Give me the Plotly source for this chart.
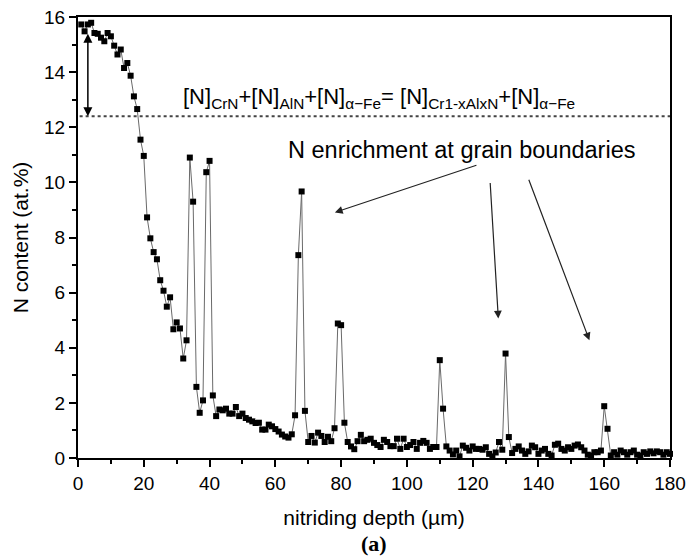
import plotly.graph_objects as go

# Depth grid (µm) - measurement step of 1 µm starting at 1 µm
depth = [float(d) for d in range(1, 181)]

n_content = [
    15.73, 15.48, 15.73, 15.79, 15.42, 15.39, 15.25, 15.12, 15.42, 15.30,
    14.96, 14.64, 14.82, 14.15, 14.33, 13.87, 13.12, 12.66, 11.55, 10.96,
    8.73, 7.97, 7.47, 7.21, 6.45, 6.07, 5.49, 5.83, 4.67, 4.92,
    4.70, 3.61, 4.27, 10.90, 9.30, 2.58, 1.64, 2.09, 10.37, 10.78,
    2.27, 1.52, 1.76, 1.73, 1.79, 1.61, 1.61, 1.85, 1.52, 1.61,
    1.45, 1.39, 1.33, 1.27, 1.28, 1.03, 1.03, 1.21, 1.15, 1.05,
    0.96, 0.85, 0.78, 0.74, 0.86, 1.55, 7.36, 9.67, 1.71, 0.58,
    0.80, 0.56, 0.92, 0.80, 0.58, 0.77, 0.61, 1.08, 4.88, 4.82,
    1.28, 0.58, 0.42, 0.32, 0.61, 0.84, 0.61, 0.66, 0.70, 0.55,
    0.47, 0.40, 0.66, 0.58, 0.43, 0.43, 0.70, 0.33, 0.70, 0.40,
    0.47, 0.58, 0.33, 0.55, 0.62, 0.55, 0.33, 0.40, 0.40, 3.55,
    1.79, 0.42, 0.27, 0.13, 0.27, 0.06, 0.45, 0.37, 0.27, 0.42,
    0.33, 0.33, 0.30, 0.39, 0.15, 0.06, 0.20, 0.58, 0.30, 3.79,
    0.76, 0.18, 0.33, 0.42, 0.27, 0.15, 0.24, 0.45, 0.39, 0.15,
    0.27, 0.33, 0.15, 0.09, 0.48, 0.52, 0.33, 0.27, 0.39, 0.33,
    0.45, 0.49, 0.39, 0.27, 0.12, 0.09, 0.21, 0.21, 0.27, 1.88,
    1.06, 0.09, 0.21, 0.12, 0.27, 0.21, 0.12, 0.21, 0.27, 0.12,
    0.09, 0.21, 0.15, 0.24, 0.17, 0.24, 0.21, 0.12, 0.21, 0.15,
]

x_ticks = [0, 20, 40, 60, 80, 100, 120, 140, 160, 180]
y_ticks = [0, 2, 4, 6, 8, 10, 12, 14, 16]

threshold = 12.4          # dotted reference level
gap_top = 15.45           # top of double arrow
gap_x = 3.0

equation = ("[N]<sub>CrN</sub>+[N]<sub>AlN</sub>+[N]<sub>α−Fe</sub>= "
            "[N]<sub>Cr1-xAlxN</sub>+[N]<sub>α−Fe</sub>")
enrich_text = "N enrichment at grain boundaries"
# arrows: (tail_x, tail_y, head_x, head_y)
enrich_arrows = [
    (121.6, 10.64, 78.1, 8.91),
    (125.3, 10.03, 127.8, 5.06),
    (136.9, 10.15, 155.5, 4.27),
]

FONT = "Liberation Sans, Arial, sans-serif"

fig = go.Figure()
fig.add_trace(go.Scatter(
    x=depth, y=n_content, mode="lines+markers",
    line=dict(color="#6a6a6a", width=1),
    marker=dict(symbol="square", size=6, color="black"),
    cliponaxis=False, showlegend=False,
))

fig.add_shape(type="line", xref="x", yref="y", x0=0.5, x1=180, y0=threshold, y1=threshold,
              line=dict(color="#444444", width=2, dash="dot"))

annotations = [
    dict(x=gap_x, y=threshold, ax=gap_x, ay=gap_top, xref="x", yref="y",
         axref="x", ayref="y", text="", showarrow=True, arrowhead=2,
         startarrowhead=2, arrowside="end+start", arrowsize=1.2, startarrowsize=1.2,
         arrowwidth=1.5, arrowcolor="black"),
    dict(x=91.5, y=13.05, xref="x", yref="y", text=equation, showarrow=False,
         font=dict(family=FONT, size=22, color="black"), xanchor="center", yanchor="middle"),
    dict(x=116.6, y=11.18, xref="x", yref="y", text=enrich_text, showarrow=False,
         font=dict(family=FONT, size=23.5, color="black"), xanchor="center", yanchor="middle"),
    dict(x=0.5, y=-0.193, xref="paper", yref="paper", yanchor="middle", text="<b>(a)</b>",
         showarrow=False, font=dict(family="Liberation Serif, Times New Roman, serif", size=22, color="black")),
]
for tx, ty, hx, hy in enrich_arrows:
    annotations.append(dict(x=hx, y=hy, ax=tx, ay=ty, xref="x", yref="y", axref="x", ayref="y",
                            text="", showarrow=True, arrowhead=2, arrowsize=1.3,
                            arrowwidth=1.2, arrowcolor="#222222"))

fig.update_layout(
    width=689, height=558,
    margin=dict(l=78, r=19, t=17, b=100),
    paper_bgcolor="white", plot_bgcolor="white",
    font=dict(family=FONT, size=19, color="black"),
    annotations=annotations,
)
fig.update_xaxes(
    range=[0, 180], tickvals=x_ticks, showgrid=False, zeroline=False, automargin=False,
    showline=True, linecolor="black", linewidth=2, mirror=True,
    ticks="outside", ticklen=7, tickwidth=2, tickcolor="black",
    minor=dict(ticks="outside", ticklen=4, tickwidth=1.5, dtick=10, tickcolor="black"),
    title=dict(text="nitriding depth (µm)", font=dict(size=21), standoff=18),
    tickfont=dict(size=19),
)
fig.update_yaxes(
    range=[0, 16], tickvals=y_ticks, showgrid=False, zeroline=False, automargin=False,
    showline=True, linecolor="black", linewidth=2, mirror=True,
    ticks="outside", ticklen=7, tickwidth=2, tickcolor="black",
    minor=dict(ticks="outside", ticklen=4, tickwidth=1.5, dtick=1, tickcolor="black"),
    title=dict(text="N content (at.%)", font=dict(size=21), standoff=10),
    tickfont=dict(size=19),
)

# remove the default 8 px page margin so the figure fills the window exactly
fig.write_html("out.html", config={"displayModeBar": False},
               post_script="document.body.style.margin='0';")
